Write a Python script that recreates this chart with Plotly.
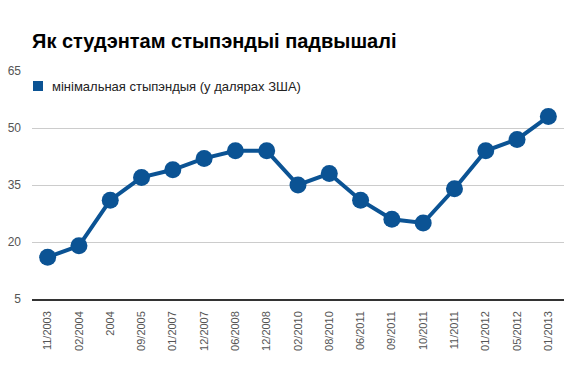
import plotly.graph_objects as go

categories = ["11/2003", "02/2004", "2004", "09/2005", "01/2007", "12/2007", "06/2008",
              "12/2008", "02/2010", "08/2010", "06/2011", "09/2011", "10/2011", "11/2011",
              "01/2012", "05/2012", "01/2013"]
values = [16, 19, 31, 37, 39, 42, 44, 44, 35, 38, 31, 26, 25, 34, 44, 47, 53]
y_ticks = [5, 20, 35, 50, 65]
series_name = "мінімальная стыпэндыя (у далярах ЗША)"
title_text = "Як студэнтам стыпэндыі падвышалі"

W, H = 568, 371
L, R, T, B = 32, 4, 71, 72
color = "#0b5394"
font = "Liberation Sans, Arial, sans-serif"

fig = go.Figure()
fig.add_trace(go.Scatter(
    x=categories, y=values, mode="lines+markers", name=series_name,
    line=dict(color=color, width=4),
    marker=dict(color=color, size=17),
    showlegend=False,
))

fig.update_layout(
    width=W, height=H,
    margin=dict(l=L, r=R, t=T, b=B),
    paper_bgcolor="white", plot_bgcolor="white",
    font=dict(family=font, color="#444"),
    title=dict(text="<b>" + title_text + "</b>", x=32 / W, xanchor="left",
               y=1 - 41 / H, yanchor="middle", yref="container",
               font=dict(size=20, color="#000", family=font)),
    xaxis=dict(type="category", showgrid=False, showline=True, linecolor="#333", linewidth=1.5,
               ticks="", tickangle=-90, tickfont=dict(size=11, color="#555"),
               ticklabelstandoff=6, range=[-0.5, len(categories) - 0.5], fixedrange=True),
    yaxis=dict(range=[5, 65], tickvals=y_ticks, showgrid=True, gridcolor="#ccc", gridwidth=1,
               zeroline=False, showline=False, ticks="", tickfont=dict(size=12, color="#555"),
               ticklabelstandoff=10, fixedrange=True),
    shapes=[dict(type="rect", xref="paper", yref="paper",
                 x0=(33 - L) / (W - L - R), x1=(43 - L) / (W - L - R),
                 y0=(H - B - 91) / (H - T - B), y1=(H - B - 81) / (H - T - B),
                 fillcolor=color, line=dict(width=0))],
    annotations=[dict(text=series_name, xref="paper", yref="paper",
                      x=(50 - L) / (W - L - R), y=(H - B - 86) / (H - T - B),
                      xanchor="left", yanchor="middle", showarrow=False,
                      font=dict(size=13, color="#222", family=font))],
)

fig.write_html("out.html", config={"displayModeBar": False},
               post_script="document.body.style.margin='0';document.body.style.overflow='hidden';")
